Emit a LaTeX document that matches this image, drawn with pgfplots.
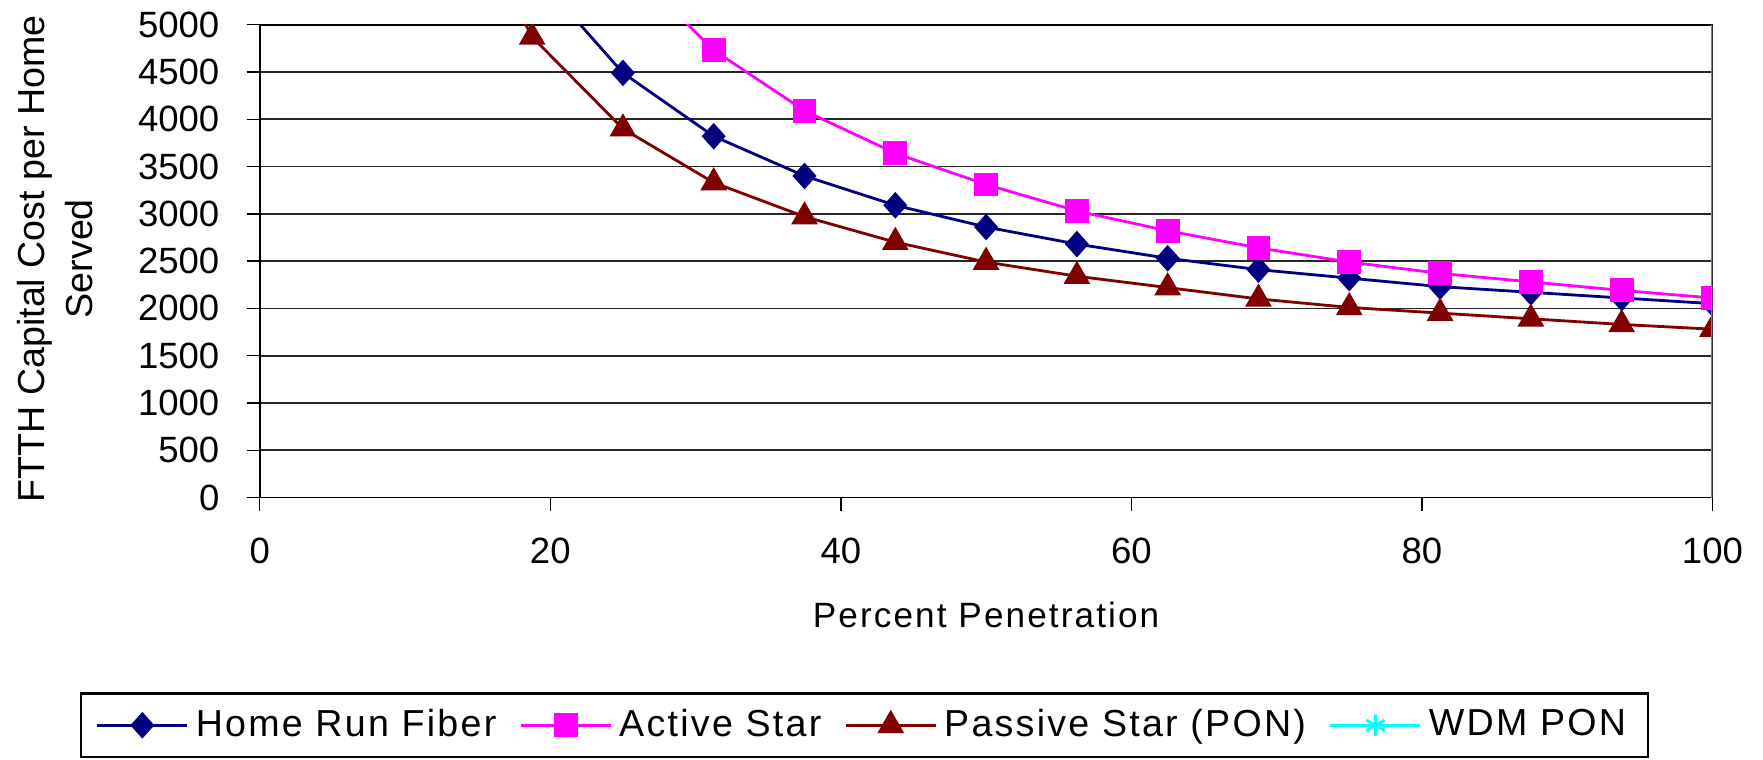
\documentclass[border=0pt]{standalone}
\usepackage{fontspec}
\setmainfont{Liberation Sans}
\usepackage{pgfplots}
\pgfplotsset{compat=1.18}
\definecolor{hrf}{RGB}{0,0,128}
\definecolor{act}{RGB}{255,0,255}
\definecolor{pas}{RGB}{128,0,0}
\definecolor{wdm}{RGB}{0,255,255}
\pgfplotstableread{
x y
18.75 5575
25 4490
31.25 3820
37.5 3400
43.75 3090
50 2860
56.25 2680
62.5 2530
68.75 2410
75 2320
81.25 2230
87.5 2170
93.75 2110
100 2050
}\tabHRF
\pgfplotstableread{
x y
25 5683
31.25 4730
37.5 4090
43.75 3640
50 3310
56.25 3030
62.5 2820
68.75 2640
75 2490
81.25 2370
87.5 2280
93.75 2190
100 2110
}\tabACT
\pgfplotstableread{
x y
12.5 6726
18.75 4870
25 3900
31.25 3330
37.5 2970
43.75 2700
50 2490
56.25 2340
62.5 2220
68.75 2100
75 2010
81.25 1950
87.5 1890
93.75 1830
100 1780
}\tabPAS
\begin{document}
\begin{tikzpicture}
\begin{axis}[
  scale only axis, width=145.3mm, height=47.3mm,
  xmin=0, xmax=100, ymin=0, ymax=5000,
  xtick={0,20,...,100}, ytick={0,500,...,5000},
  xtick pos=left, ytick pos=left,
  tick align=outside, major tick length=1.3mm,
  tick style={black, line width=0.4pt},
  axis line style={black, line width=0.5pt},
  ymajorgrids, major grid style={black!85, line width=0.5pt},
  /pgf/number format/assume math mode=true,
  /pgf/number format/1000 sep={},
  ticklabel style={font=\fontsize{10.4}{12}\selectfont},
  xticklabel style={yshift=-1.5mm},
  yticklabel style={xshift=-1.5mm},
  xlabel={\addfontfeatures{LetterSpace=6}Percent Penetration},
  xlabel style={font=\fontsize{10.7}{13}\selectfont},
  every axis x label/.style={at={(axis description cs:0.5,-0.249)}, anchor=center},
  ylabel={FTTH Capital Cost per Home\\Served},
  every axis y label/.style={at={(axis description cs:-0.141,0.505)}, rotate=90, anchor=center, align=center, font=\fontsize{10.7}{13.6}\selectfont},
  clip marker paths=true,
  legend columns=4,
  legend style={at={(axis description cs:0.4163,-0.4816)}, anchor=center,
    draw=black, line width=0.6pt, inner xsep=1.5mm, inner ysep=0.85mm,
    font=\fontsize{10.7}{13}\selectfont\addfontfeatures{LetterSpace=6},
    /tikz/every even column/.append style={column sep=1.6mm}},
  legend image code/.code={\draw[mark repeat=2,mark phase=2] plot coordinates {(0cm,0cm) (0.45cm,0cm) (0.9cm,0cm)};},
]
\addplot[hrf, line width=0.8pt, mark=diamond*, mark size=3.2pt, mark options={solid, fill=hrf, xscale=1.2}] table {\tabHRF};
\addlegendentry{Home Run Fiber}
\addplot[act, line width=0.8pt, mark=square*, mark size=3pt, mark options={solid, fill=act}] table {\tabACT};
\addlegendentry{Active Star}
\addplot[pas, line width=0.8pt, mark=triangle*, mark size=3.6pt, mark options={solid, fill=pas}] table {\tabPAS};
\addlegendentry{Passive Star (PON)}
\addlegendimage{wdm, line width=0.8pt, mark=asterisk, mark size=3pt, mark options={solid}}
\addlegendentry{WDM PON}
\draw[black!50, line width=1.1pt] (rel axis cs:1,0) -- (rel axis cs:1,1);
\coordinate (bbsw) at (rel axis cs:-0.1788,-0.5534);
\coordinate (bbne) at (rel axis cs:1.0348,1.0499);
\end{axis}
\path (bbsw) rectangle (bbne);
\end{tikzpicture}
\end{document}
